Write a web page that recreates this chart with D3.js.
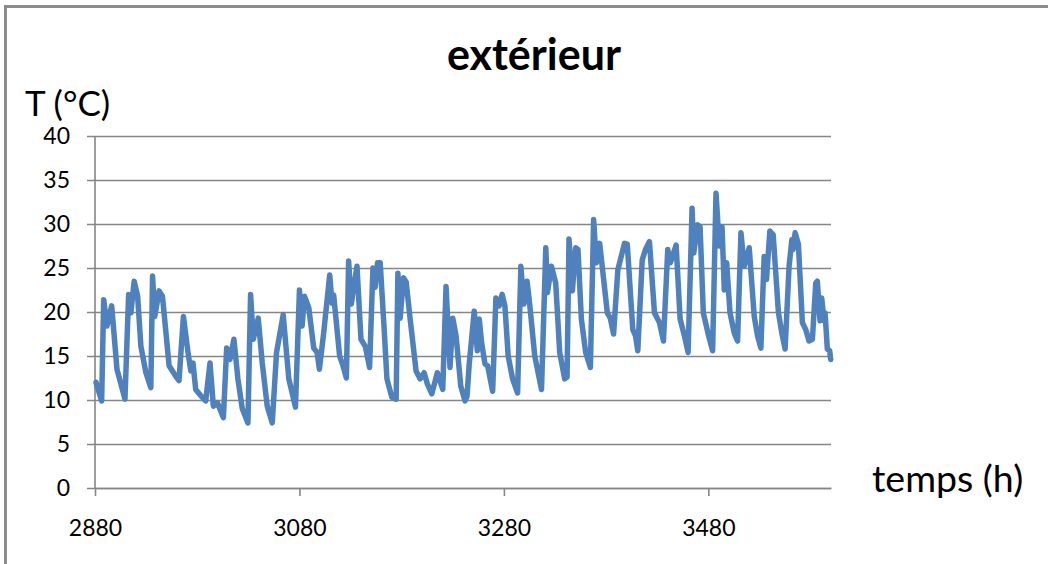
<!DOCTYPE html>
<html>
<head>
<meta charset="utf-8">
<script src="https://cdn.jsdelivr.net/npm/d3@7"></script>
<style>
  html, body { margin: 0; padding: 0; background: #fff; }
  svg { display: block; }
  text { font-family: Lato, "Open Sans", "Liberation Sans", sans-serif; fill: #000; }
</style>
</head>
<body>
<svg id="chart" width="1048" height="564"></svg>
<script>
// ---- data ----
const title = "extérieur";
const yAxisTitle = "T (°C)";
const xAxisTitle = "temps (h)";
const xTicks = [2880, 3080, 3280, 3480];
const yTicks = [0, 5, 10, 15, 20, 25, 30, 35, 40];
const hours = [
  2881, 2886.5, 2888.5, 2891.7, 2896.3, 2901.5, 2909.3, 2912.9, 2915.1, 2918.3,
  2921.7, 2924.9, 2929.8, 2934.6, 2936.3, 2938.5, 2942.7, 2946.0, 2952.5, 2959.0,
  2962.2, 2966.5, 2971.0, 2973.7, 2975.9, 2978.5, 2983.4, 2988.3, 2992.5, 2995.8,
  2999.7, 3005.6, 3008.8, 3012.0, 3015.9, 3019.8, 3024.1, 3029.6, 3032.2, 3034.8,
  3039.7, 3043.6, 3048.5, 3053.4, 3057.6, 3064.1, 3069.6, 3076.1, 3080.0, 3082.6,
  3084.9, 3089.1, 3094.0, 3097.3, 3099.5, 3103.7, 3109.6, 3111.9, 3113.5, 3119.3,
  3122.6, 3125.9, 3128.1, 3130.7, 3136.3, 3140.2, 3144.4, 3148.6, 3151.9, 3154.1,
  3156.4, 3159.0, 3162.9, 3165.6, 3170.4, 3174.6, 3176.3, 3178.5, 3181.8, 3184.4,
  3188.3, 3194.1, 3198.0, 3202.0, 3205.2, 3209.5, 3214.9, 3220.2, 3223.4, 3227.3,
  3230.0, 3233.2, 3237.8, 3242.0, 3243.9, 3246.1, 3251.0, 3254.0, 3255.9, 3258.2,
  3261.5, 3264.1, 3269.0, 3272.2, 3275.4, 3278.3, 3281.0, 3284.2, 3288.5, 3293.4,
  3296.6, 3299.5, 3302.7, 3305.4, 3310.2, 3316.8, 3321.0, 3322.6, 3326.5, 3330.7,
  3334.6, 3339.5, 3341.8, 3343.7, 3347.0, 3350.2, 3352.5, 3355.8, 3360.0, 3364.6,
  3367.8, 3370.4, 3373.7, 3381.2, 3384.1, 3387.3, 3391.5, 3398.0, 3400.7, 3406.1,
  3408.8, 3411.0, 3415.3, 3418.5, 3422.4, 3427.3, 3432.2, 3436.1, 3440.3, 3442.9,
  3448.5, 3452.4, 3456.6, 3460.2, 3464.1, 3465.7, 3469.6, 3471.9, 3475.1, 3480.3,
  3484.2, 3487.5, 3490.7, 3493.4, 3495.6, 3497.9, 3501.2, 3505.4, 3508.6, 3511.9,
  3515.1, 3520.0, 3524.9, 3528.1, 3531.4, 3534.6, 3536.9, 3540.2, 3543.4, 3548.6,
  3551.9, 3555.1, 3559.0, 3561.7, 3562.9, 3564.9, 3568.1, 3572.0, 3575.3, 3578.5,
  3581.8, 3585.1, 3586.6, 3589.3, 3590.9, 3593.2, 3594.2, 3596.4, 3598.7, 3599.7
];
const temps = [
  12.0, 9.9, 21.4, 18.4, 20.7, 13.5, 10.1, 22.0, 19.9, 23.5,
  21.8, 16.1, 13.1, 11.4, 24.1, 19.5, 22.4, 21.8, 13.9, 12.7,
  12.2, 19.5, 15.4, 13.3, 14.2, 11.2, 10.5, 9.9, 14.2, 9.3,
  9.7, 8.0, 15.9, 14.6, 16.9, 12.4, 9.0, 7.4, 22.0, 16.9,
  19.3, 14.2, 9.3, 7.4, 15.4, 19.7, 12.4, 9.2, 22.5, 18.4,
  21.8, 20.5, 15.9, 15.4, 13.5, 17.6, 24.2, 21.0, 21.9, 15.0,
  13.9, 12.5, 25.8, 20.9, 25.2, 16.9, 16.1, 13.7, 25.0, 22.8,
  25.6, 25.6, 18.0, 12.4, 10.3, 10.1, 24.4, 19.3, 23.9, 23.4,
  19.2, 13.3, 12.4, 13.1, 11.8, 10.7, 13.1, 11.2, 22.9, 13.7,
  19.3, 17.3, 11.6, 9.9, 10.4, 14.1, 20.1, 15.6, 19.2, 16.5,
  14.1, 13.9, 11.0, 21.6, 20.7, 22.0, 20.7, 15.0, 12.4, 10.8,
  25.2, 20.9, 23.5, 20.7, 15.0, 11.2, 27.3, 22.2, 25.2, 23.3,
  15.4, 12.4, 12.6, 28.3, 22.4, 27.3, 27.1, 19.2, 15.4, 13.7,
  30.5, 25.6, 27.8, 19.9, 19.3, 17.5, 24.8, 27.8, 27.7, 18.0,
  17.3, 15.6, 25.9, 27.1, 28.0, 19.9, 18.8, 16.7, 27.1, 25.6,
  27.6, 19.2, 17.3, 15.4, 31.8, 26.7, 29.9, 29.7, 19.9, 17.3,
  15.6, 33.5, 27.5, 29.7, 22.5, 25.6, 19.9, 17.6, 16.7, 29.0,
  25.2, 27.3, 19.5, 17.3, 15.9, 26.3, 23.7, 29.2, 28.8, 19.9,
  17.6, 15.8, 25.2, 28.2, 27.1, 29.0, 27.7, 18.8, 18.0, 16.7,
  16.9, 23.3, 23.5, 19.0, 21.6, 19.0, 19.9, 15.8, 15.6, 14.6
];
const xDomain = [2880, 3600];
const yDomain = [0, 40];

// ---- drawing ----
const svg = d3.select("#chart");
const plot = { left: 95, right: 831, top: 136, bottom: 488 };
const gridColor = "#868686";
const lineColor = "#4F81BD";

// outer chart frame (cropped at right/bottom)
svg.append("path")
  .attr("d", "M5.5,564 L5.5,6.5 L1048,6.5")
  .attr("fill", "none").attr("stroke", "#8c8c8c").attr("stroke-width", 3);

const x = d3.scaleLinear().domain(xDomain).range([plot.left, plot.right]);
const y = d3.scaleLinear().domain(yDomain).range([plot.bottom, plot.top]);

// horizontal gridlines + left ticks via y axis
const yAxis = d3.axisLeft(y).tickValues(yTicks).tickSize(-(plot.right - plot.left)).tickSizeOuter(0).tickPadding(25).tickFormat(d3.format("d"));
const gy = svg.append("g").attr("transform", `translate(${plot.left},0)`).call(yAxis);
gy.select(".domain").remove();
gy.selectAll(".tick line").attr("stroke", gridColor).attr("stroke-width", 1.6)
  .attr("x1", -8);
gy.selectAll(".tick text").attr("font-size", 23).attr("fill", "#000");

// y axis line
svg.append("line")
  .attr("x1", plot.left).attr("x2", plot.left)
  .attr("y1", plot.top).attr("y2", plot.bottom)
  .attr("stroke", gridColor).attr("stroke-width", 1.6);

// x axis
const xAxis = d3.axisBottom(x).tickValues(xTicks).tickSize(8).tickSizeOuter(0).tickPadding(24).tickFormat(d3.format("d"));
const gx = svg.append("g").attr("transform", `translate(0,${plot.bottom})`).call(xAxis);
gx.select(".domain").attr("stroke", gridColor).attr("stroke-width", 1.6);
gx.selectAll(".tick line").attr("stroke", gridColor).attr("stroke-width", 1.6);
gx.selectAll(".tick text").attr("font-size", 23).attr("fill", "#000");

// data line
const pts = hours.map((h, i) => [h, temps[i]]);
svg.append("path")
  .datum(pts)
  .attr("fill", "none")
  .attr("stroke", lineColor)
  .attr("stroke-width", 5.5)
  .attr("stroke-linejoin", "round")
  .attr("stroke-linecap", "round")
  .attr("d", d3.line().x(d => x(d[0])).y(d => y(d[1])));

// titles
svg.append("text").attr("x", 534).attr("y", 70).attr("text-anchor", "middle")
  .attr("font-size", 43).attr("font-weight", "bold").text(title);
svg.append("text").attr("x", 25).attr("y", 116).attr("font-size", 35).text(yAxisTitle);
svg.append("text").attr("x", 872).attr("y", 492).attr("font-size", 37.5).text(xAxisTitle);
</script>
</body>
</html>
